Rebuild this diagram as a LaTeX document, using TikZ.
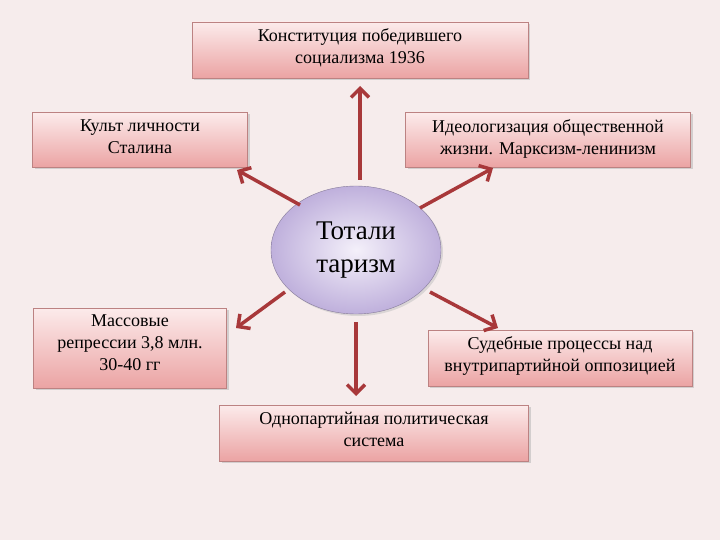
\documentclass[tikz,border=0pt]{standalone}
\usepackage{fontspec}
\setmainfont{Liberation Serif}
\usetikzlibrary{arrows.meta,shadows,shapes.geometric}
\definecolor{bg}{HTML}{F6ECEC}
\definecolor{btop}{HTML}{FCEBEB}
\definecolor{bbot}{HTML}{EBA3A3}
\definecolor{arr}{HTML}{A8383A}
\definecolor{ein}{HTML}{F4F0FA}
\definecolor{eout}{HTML}{BFB0DC}
\tikzset{
 box/.style={draw=bbot!80!black, line width=0.6pt, top color=btop, bottom color=bbot, inner sep=0pt, drop shadow={shadow xshift=2pt,shadow yshift=-2pt,fill=gray!60}},
 txt/.style={anchor=north, align=center, font=\fontsize{18}{22}\selectfont, inner sep=0pt, yshift=-7pt},
 arrowl/.style={draw=arr, line width=3.5pt, -{Straight Barb[length=9pt,width=18pt,line width=3.5pt]}}
}
\begin{document}
\begin{tikzpicture}[x=1pt,y=-1pt]
\fill[bg] (0,0) rectangle (720,540);
\useasboundingbox (0,0) rectangle (720,540);
\node[box, minimum width=336pt, minimum height=56pt] (t) at (360,50) {};
\node[txt] (tt) at (t.north) {Конституция победившего\\социализма 1936};
\node[box, minimum width=215pt, minimum height=55pt] (l) at (140,140) {};
\node[txt] (lt) at (l.north) {Культ личности\\Сталина};
\node[box, minimum width=285pt, minimum height=55pt] (r) at (548,140) {};
\node[txt] (rt) at (r.north) {Идеологизация общественной\\жизни. Марксизм-ленинизм};
\node[box, minimum width=193pt, minimum height=80pt] (bl) at (130,348) {};
\node[txt] (blt) at (bl.north) {Массовые\\репрессии 3,8 млн.\\30-40 гг};
\node[box, minimum width=264pt, minimum height=56pt] (br) at (560,358) {};
\node[txt] (brt) at (br.north) {Судебные процессы над\\внутрипартийной оппозицией};
\node[box, minimum width=309pt, minimum height=56pt] (b) at (374,433) {};
\node[txt] (bt) at (b.north) {Однопартийная политическая\\система};
\node[draw=eout!70!black, ellipse, minimum width=170pt, minimum height=128pt, inner color=ein, outer color=eout, drop shadow={shadow xshift=2pt,shadow yshift=-2pt,fill=gray!50}] (c) at (356,250) {};
\node[align=center, font=\fontsize{27}{33}\selectfont, inner sep=0pt] (ct) at (356,250) {Тотали\\таризм};
\coordinate (c1) at (360,180); \coordinate (t1) at (360,86);
\coordinate (c2) at (300,205); \coordinate (l1) at (237,170);
\coordinate (c3) at (420,208); \coordinate (r1) at (493,168);
\coordinate (c4) at (285,292); \coordinate (bl1) at (236,328);
\coordinate (c5) at (430,292); \coordinate (br1) at (498,328);
\coordinate (c6) at (356,322); \coordinate (b1) at (356,396);
\draw[arrowl] (c1) -- (t1);
\draw[arrowl] (c2) -- (l1);
\draw[arrowl] (c3) -- (r1);
\draw[arrowl] (c4) -- (bl1);
\draw[arrowl] (c5) -- (br1);
\draw[arrowl] (c6) -- (b1);
\end{tikzpicture}
\end{document}
